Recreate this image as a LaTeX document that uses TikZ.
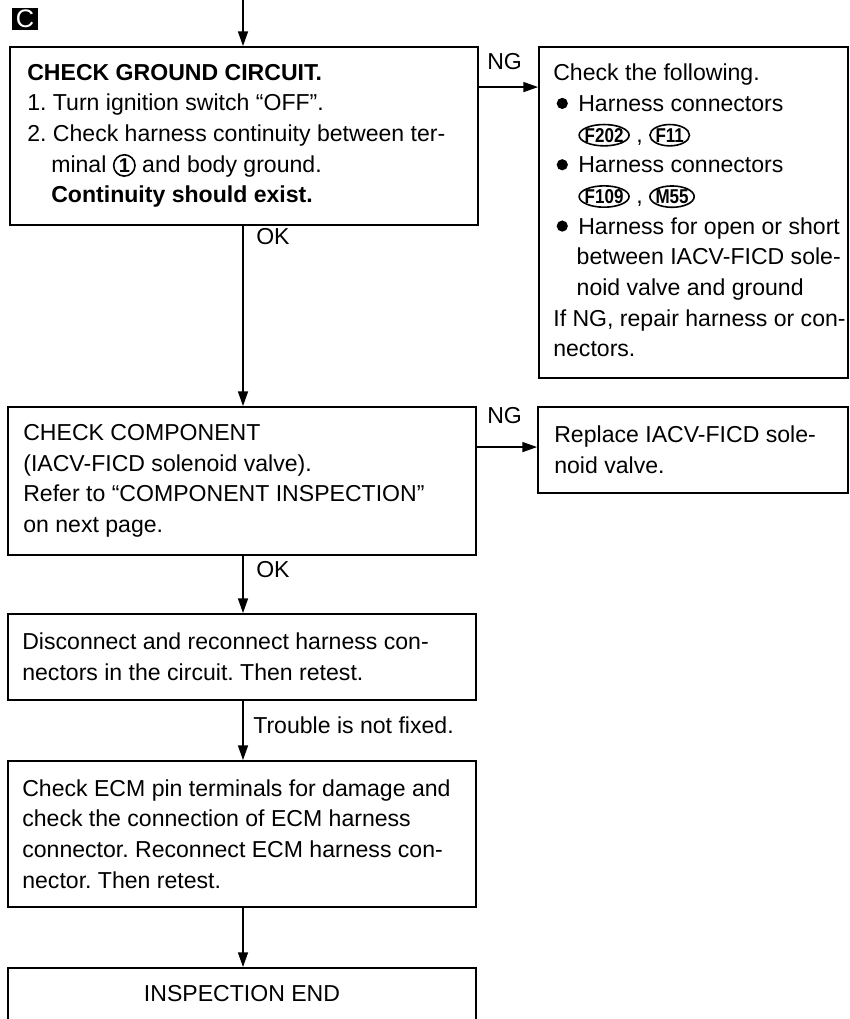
\documentclass[tikz,border=0pt]{standalone}
\usepackage{graphicx}
\usepackage{fontspec}
\setmainfont{Liberation Sans}
\frenchspacing
\usetikzlibrary{arrows.meta,calc}
\newcommand{\circnum}[1]{\tikz[baseline=(cn.base)]\node[circle,draw,line width=1.2pt,inner sep=0pt,minimum size=16pt,font=\bfseries\fontsize{15}{15}\selectfont](cn){#1};}
\newcommand{\connsym}[1]{\tikz[baseline=(cs.base)]{\node[inner sep=0pt,font=\bfseries\fontsize{15}{15}\selectfont](cs){\scalebox{0.85}[1]{#1}};\draw[line width=1.2pt] let \p1=($(cs.east)-(cs.west)$) in (cs.center) ellipse [x radius=0.5*\x1+4pt,y radius=8pt];}}
\newcommand{\blt}{\makebox[18.75pt][l]{\hspace{2.5pt}\tikz[baseline=0pt]\fill (0pt,6pt) circle (4.2pt);}}
\begin{document}
\begin{tikzpicture}[x=0.75pt,y=-0.75pt,
  box/.style={draw,line width=1.4pt,inner sep=0pt},
  txt/.style={align=left,inner sep=0pt,anchor=west,font=\fontsize{17.3}{23}\selectfont},
  lbl/.style={inner sep=0pt,anchor=base west,font=\fontsize{17.3}{20}\selectfont},
  arr/.style={line width=1pt,-{Triangle[length=11pt,width=7.5pt]}}]
\useasboundingbox (0,0) rectangle (849,1019);
\clip (0,0) rectangle (849,1019);

\node[fill=black,text=white,inner sep=0pt,minimum width=19.5pt,minimum height=17pt,font=\fontsize{19}{19}\selectfont] (badge) at (25,19) {C};

% boxes
\node[box,minimum width=351pt,minimum height=133.5pt] (b1) at (244,136) {};
\node[txt] (t1) at ($(b1.west)+(18,0)$) {\textbf{CHECK GROUND CIRCUIT.}\\
1. Turn ignition switch “OFF”.\\
2. Check harness continuity between ter-\\
\hspace*{18pt}minal \circnum{1} and body ground.\\
\hspace*{18pt}\textbf{Continuity should exist.}};

\node[box,minimum width=231.75pt,minimum height=248.25pt] (n1) at (693.5,212.5) {};
\node[txt] (tn1) at ($(n1.west)+(15,-2)$) {Check the following.\\
\blt Harness connectors\\
\hspace*{18.75pt}\connsym{F202} , \connsym{F11}\\
\blt Harness connectors\\
\hspace*{18.75pt}\connsym{F109} , \connsym{M55}\\
\blt Harness for open or short\\
\hspace*{17.5pt}between IACV-FICD sole-\\
\hspace*{17.5pt}noid valve and ground\\
If NG, repair harness or con-\\
nectors.};

\node[box,minimum width=351pt,minimum height=111pt] (b2) at (242,481) {};
\node[txt] (t2) at ($(b2.west)+(16,0)$) {CHECK COMPONENT\\
(IACV-FICD solenoid valve).\\
Refer to “COMPONENT INSPECTION”\\
on next page.};

\node[box,minimum width=232.5pt,minimum height=64.5pt] (n2) at (693,450) {};
\node[txt] (tn2) at ($(n2.west)+(17,0)$) {Replace IACV-FICD sole-\\
noid valve.};

\node[box,minimum width=351pt,minimum height=64.5pt] (b3) at (242,657) {};
\node[txt] (t3) at ($(b3.west)+(15,0)$) {Disconnect and reconnect harness con-\\
nectors in the circuit. Then retest.};

\node[box,minimum width=351pt,minimum height=109.5pt] (b4) at (242,834) {};
\node[txt] (t4) at ($(b4.west)+(15,0)$) {Check ECM pin terminals for damage and\\
check the connection of ECM harness\\
connector. Reconnect ECM harness con-\\
nector. Then retest.};

\node[box,minimum width=351pt,minimum height=75pt,anchor=north] (b5) at (242,967) {};
\node[lbl,anchor=base] (t5) at (242,1001) {INSPECTION END};

% connectors
\coordinate (top) at (243,0);
\draw[arr] (top) -- (top |- b1.north);
\draw[arr] (b1.south -| top) -- (b2.north -| top);
\draw[arr] (b2.south -| top) -- (b3.north -| top);
\draw[arr] (b3.south -| top) -- (b4.north -| top);
\draw[arr] (b4.south -| top) -- (b5.north -| top);
\draw[arr] ($(b1.north east)+(0,41)$) -- ($(n1.north west)+(0,41)$);
\draw[arr] ($(b2.north east)+(0,41)$) -- ($(n2.north west)+(0,41)$);

% labels
\node[lbl] (ng1) at (487,70) {NG};
\node[lbl] (ng2) at (487,423) {NG};
\node[lbl] (ok1) at (256,245) {OK};
\node[lbl] (ok2) at (256,577) {OK};
\node[lbl] (tr) at (253,733) {Trouble is not fixed.};
\end{tikzpicture}
\end{document}
